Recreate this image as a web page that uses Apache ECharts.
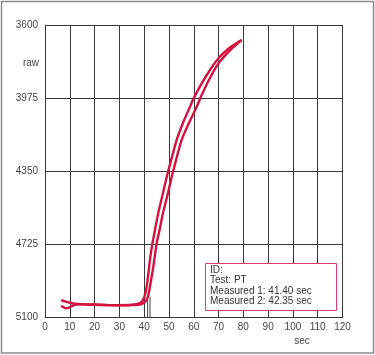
<!DOCTYPE html>
<html>
<head>
<meta charset="utf-8">
<script src="https://cdn.jsdelivr.net/npm/echarts@6/dist/echarts.min.js"></script>
<style>html,body{margin:0;padding:0;background:#fff}#c{width:375px;height:355px}</style>
</head>
<body>
<div id="c"></div>
<script>
// ---- data ----
const curve1 = [
  [6.5, 5013], [8, 5020], [10, 5027], [12, 5031], [15, 5034], [20, 5036], [25, 5038],
  [30, 5039], [35, 5037], [38.3, 5028], [39.5, 5013], [40.3, 4987], [41.1, 4936],
  [41.8, 4865], [42.5, 4790], [43.3, 4725], [44.4, 4650], [45.7, 4566], [47.4, 4473],
  [48.8, 4396], [49.6, 4355], [53.1, 4191], [56, 4092], [58.5, 4020], [60, 3975],
  [65, 3862], [70, 3771], [75, 3712], [79.3, 3677]
];
const curve2 = [
  [6.5, 5042], [7.5, 5050], [8.5, 5055], [10, 5050], [12, 5038], [15, 5035], [20, 5037],
  [25, 5039], [30, 5040], [35, 5039], [38.3, 5036], [40.3, 5023], [41.3, 5002],
  [42.1, 4961], [42.8, 4910], [43.8, 4833], [45, 4725], [46.2, 4653], [47.6, 4566],
  [49.4, 4473], [51.6, 4355], [55.1, 4191], [58, 4105], [61.2, 4020], [62.5, 3980],
  [66, 3885], [70, 3797], [75, 3725], [79.3, 3677]
];
const markerTimes = [41.40, 42.35];
const markerTops = [4990, 4995];
const yMin = 3600, yMax = 5100, yStep = 375;
const xMin = 0, xMax = 120, xStep = 10;
const yName = 'raw';
const xName = 'sec';
const infoLines = ['ID:', 'Test: PT', 'Measured 1: 41.40 sec', 'Measured 2: 42.35 sec'];

// ---- chart ----
const chart = echarts.init(document.getElementById('c'));
const labelFont = "'Liberation Sans Narrow','Arial Narrow','Liberation Sans',sans-serif";
const gridColor = '#3a3a3a';
const curveColor = '#d3123f';

const series = [];
markerTimes.forEach((t, i) => {
  series.push({
    type: 'line', data: [[t, yMax], [t, markerTops[i]]], symbol: 'none', silent: true,
    lineStyle: { color: '#444', width: 1 }, z: 1, animation: false
  });
});
[curve1, curve2].forEach(d => {
  series.push({
    type: 'line', data: d, smooth: 0.25, symbol: 'none', silent: true,
    lineStyle: { color: curveColor, width: 2.4 }, z: 3, animation: false
  });
});

chart.setOption({
  animation: false,
  grid: { left: 45, right: 32.5, top: 25, bottom: 38, show: false },
  xAxis: {
    type: 'value', min: xMin, max: xMax, interval: xStep,
    axisLine: { show: true, lineStyle: { color: gridColor, width: 1 } },
    axisTick: { show: false },
    splitLine: { show: true, lineStyle: { color: gridColor, width: 1 } },
    axisLabel: { color: '#444', fontFamily: labelFont, fontSize: 10, margin: 5,
      formatter: v => String(v) }
  },
  yAxis: {
    type: 'value', min: yMin, max: yMax, interval: yStep, inverse: true,
    axisLine: { show: true, lineStyle: { color: gridColor, width: 1 } },
    axisTick: { show: false },
    splitLine: { show: true, lineStyle: { color: gridColor, width: 1 } },
    axisLabel: { color: '#444', fontFamily: labelFont, fontSize: 10, margin: 7,
      formatter: v => String(v) }
  },
  series: series,
  graphic: [
    { type: 'rect', shape: { x: 1.5, y: 1.5, width: 372, height: 351.5 },
      style: { fill: 'none', stroke: '#8c8c8c', lineWidth: 1.5 }, silent: true },
    { type: 'text', x: 39, y: 63, style: { text: yName, fill: '#444', font: '10px ' + labelFont,
      textAlign: 'right', textVerticalAlign: 'middle' } },
    { type: 'text', x: 302, y: 341, style: { text: xName, fill: '#444', font: '10px ' + labelFont,
      textAlign: 'center', textVerticalAlign: 'middle' } },
    { type: 'rect', shape: { x: 205.5, y: 263.5, width: 131, height: 47 },
      style: { fill: '#fff', stroke: '#de3a6c', lineWidth: 1 }, z: 10, silent: true },
    { type: 'text', x: 210, y: 265, z: 11, silent: true,
      style: { text: infoLines.join('\n'), fill: '#333', font: '10px "Liberation Sans",Arial,sans-serif',
        lineHeight: 10.4 } }
  ]
});
</script>
</body>
</html>
